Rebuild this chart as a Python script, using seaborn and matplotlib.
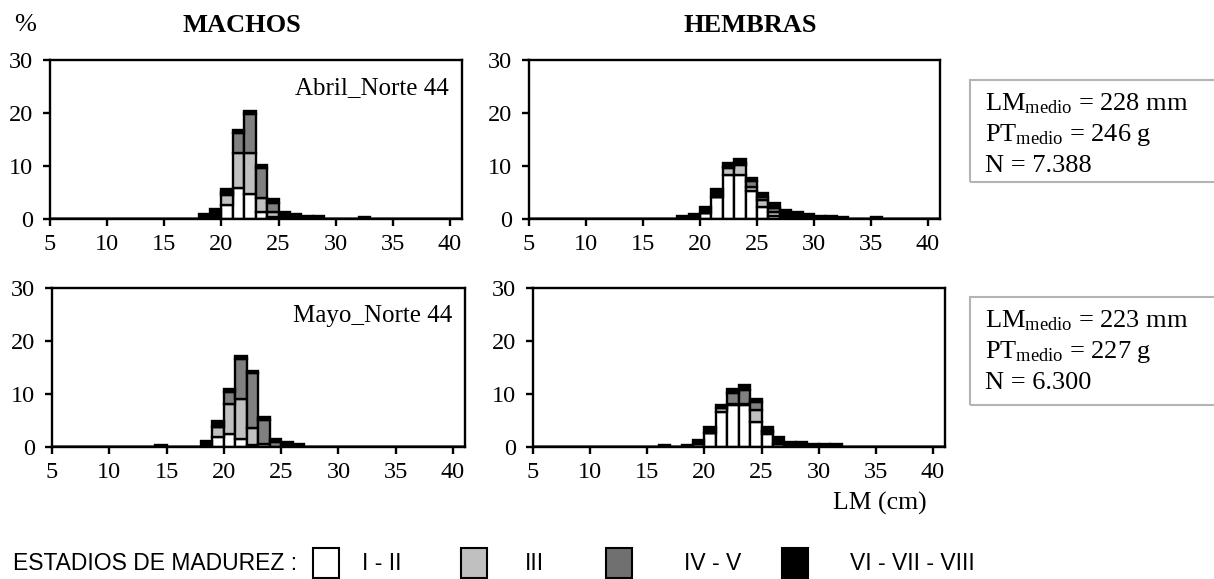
import numpy as np
import pandas as pd
import matplotlib
matplotlib.use('Agg')
import matplotlib.pyplot as plt
import seaborn as sns
from matplotlib.patches import Rectangle

# maturity stages, bottom to top of each stacked bar
stages = ['I - II', 'III', 'IV - V', 'VI - VII - VIII']
stage_colors = ['white', '#c0c0c0', '#808080', 'black']

# Abril - machos (left edge of 1 cm length class, % per stage)
abril_m_lm = [18, 19, 20, 21, 22, 23, 24, 25, 26, 27, 28, 32]
abril_m_1 = [0, 0.4, 2.6, 5.8, 4.8, 1.3, 0.3, 0, 0, 0, 0, 0]
abril_m_3 = [0, 0, 1.9, 6.6, 7.6, 2.7, 1.0, 0, 0, 0, 0, 0]
abril_m_4 = [0, 0, 0.5, 3.9, 7.5, 5.6, 1.8, 0.2, 0, 0, 0, 0]
abril_m_6 = [0.9, 1.4, 0.7, 0.5, 0.5, 0.5, 0.6, 1.2, 0.9, 0.5, 0.5, 0.4]

# Abril - hembras
abril_h_lm = [18, 19, 20, 21, 22, 23, 24, 25, 26, 27, 28, 29, 30, 31, 32, 35]
abril_h_1 = [0, 0, 1.1, 4.2, 8.3, 8.3, 5.3, 2.2, 0.6, 0, 0, 0, 0, 0, 0, 0]
abril_h_3 = [0, 0, 0, 0, 1.3, 1.8, 0.7, 1.4, 0.8, 0, 0, 0, 0, 0, 0, 0]
abril_h_4 = [0, 0, 0, 0, 0.2, 0.4, 1.1, 0.6, 0.6, 0, 0, 0, 0, 0, 0, 0]
abril_h_6 = [0.5, 0.9, 1.1, 1.5, 0.7, 0.8, 0.6, 0.8, 1.0, 1.7, 1.4, 0.9, 0.5, 0.5, 0.4, 0.4]

# Mayo - machos
mayo_m_lm = [14, 18, 19, 20, 21, 22, 23, 24, 25, 26]
mayo_m_1 = [0, 0, 1.9, 2.4, 1.6, 0.3, 0, 0, 0, 0]
mayo_m_3 = [0, 0, 1.9, 5.7, 7.5, 3.3, 0.6, 0, 0, 0]
mayo_m_4 = [0, 0, 0, 2.3, 7.5, 10.3, 4.5, 0.9, 0, 0]
mayo_m_6 = [0.45, 1.2, 1.1, 0.5, 0.6, 0.5, 0.5, 0.7, 0.9, 0.5]

# Mayo - hembras
mayo_h_lm = [16, 18, 19, 20, 21, 22, 23, 24, 25, 26, 27, 28, 29, 30, 31]
mayo_h_1 = [0, 0, 0.5, 2.7, 6.6, 7.9, 7.9, 4.7, 2.4, 0.5, 0, 0, 0, 0, 0]
mayo_h_3 = [0, 0, 0, 0, 0.8, 0.3, 0.3, 2.3, 0.4, 0, 0, 0, 0, 0, 0]
mayo_h_4 = [0, 0, 0, 0, 0, 2.0, 2.6, 1.5, 0.2, 0, 0, 0, 0, 0, 0]
mayo_h_6 = [0.45, 0.45, 0.8, 1.0, 0.6, 0.7, 0.9, 0.5, 0.7, 1.3, 0.9, 0.9, 0.5, 0.5, 0.5]

x_ticks = [5, 10, 15, 20, 25, 30, 35, 40]
y_ticks = [0, 10, 20, 30]


def long_table(lm, s1, s3, s4, s6):
    rows = []
    for vals, st in zip([s1, s3, s4, s6], stages):
        for x, v in zip(lm, vals):
            rows.append({'LM': x + 0.5, 'stage': st, 'pct': v})
    return pd.DataFrame(rows)


sns.set_style('ticks')
plt.rcParams['font.family'] = ['Liberation Serif', 'DejaVu Serif']
plt.rcParams['mathtext.fontset'] = 'custom'
plt.rcParams['mathtext.rm'] = 'Liberation Serif'
plt.rcParams['mathtext.it'] = 'Liberation Serif:italic'
for key in ['text.color', 'axes.labelcolor', 'xtick.color', 'ytick.color', 'axes.edgecolor']:
    plt.rcParams[key] = 'black'

W, H = 1214, 579
fig = plt.figure(figsize=(W / 100, H / 100), dpi=100)


def px_axes(left, right, top, bottom):
    return fig.add_axes([left / W, 1 - bottom / H, (right - left) / W, (bottom - top) / H])


panels = [
    (px_axes(50, 462, 60, 219), long_table(abril_m_lm, abril_m_1, abril_m_3, abril_m_4, abril_m_6), 'Abril_Norte 44'),
    (px_axes(529, 940, 60, 219), long_table(abril_h_lm, abril_h_1, abril_h_3, abril_h_4, abril_h_6), None),
    (px_axes(52, 465, 288, 447), long_table(mayo_m_lm, mayo_m_1, mayo_m_3, mayo_m_4, mayo_m_6), 'Mayo_Norte 44'),
    (px_axes(533, 945, 288, 447), long_table(mayo_h_lm, mayo_h_1, mayo_h_3, mayo_h_4, mayo_h_6), None),
]

palette = dict(zip(stages, stage_colors))
for ax, df, label in panels:
    # seaborn puts the first hue level on top when stacking
    sns.histplot(data=df, x='LM', weights='pct', hue='stage', hue_order=stages[::-1],
                 multiple='stack', binwidth=1, binrange=(5, 41), palette=palette,
                 edgecolor='black', linewidth=1.7, alpha=1, legend=False, ax=ax)
    ax.set_xlim(5, 41.05)
    ax.set_ylim(0, 30)
    ax.set_xticks(x_ticks)
    ax.set_yticks(y_ticks)
    ax.set_xlabel('')
    ax.set_ylabel('')
    for sp in ax.spines.values():
        sp.set_visible(True)
        sp.set_linewidth(1.7)
        sp.set_color('black')
    ax.tick_params(axis='both', labelsize=17.5, width=1.7, length=5, color='black',
                   labelcolor='black')
    ax.tick_params(axis='x', pad=6)
    ax.tick_params(axis='y', pad=7)
    if label:
        ax.text(0.968, 0.825, label, transform=ax.transAxes, ha='right', va='center', fontsize=18)

fig.text(25 / W, 1 - 25 / H, '%', ha='center', va='center', fontsize=19)
fig.text(242 / W, 1 - 25 / H, 'MACHOS', ha='center', va='center', fontsize=19, fontweight='bold')
fig.text(750 / W, 1 - 25 / H, 'HEMBRAS', ha='center', va='center', fontsize=19, fontweight='bold')
fig.text(880 / W, 1 - 503 / H, 'LM (cm)', ha='center', va='center', fontsize=18.5)

# summary boxes
stats = [
    (80, 182, ['LM$_{\\mathrm{medio}}$ = 228 mm', 'PT$_{\\mathrm{medio}}$ = 246 g', 'N = 7.388']),
    (297, 405, ['LM$_{\\mathrm{medio}}$ = 223 mm', 'PT$_{\\mathrm{medio}}$ = 227 g', 'N = 6.300']),
]
for top, bottom, lines in stats:
    fig.patches.append(Rectangle((970 / W, 1 - bottom / H), 0.3, (bottom - top) / H,
                                 transform=fig.transFigure, facecolor='none',
                                 edgecolor='#b4b4b4', linewidth=1.5, clip_on=False))
    for i, line in enumerate(lines):
        fig.text(985 / W, 1 - (top + 24 + i * 31) / H, line, ha='left', va='center', fontsize=19)

# maturity legend
sans = ['Liberation Sans', 'DejaVu Sans']
leg_y = 563
fig.text(13 / W, 1 - leg_y / H, 'ESTADIOS DE MADUREZ :', ha='left', va='center', fontsize=16.5, family=sans)
leg_boxes = [313, 461, 606, 782]
leg_text = [362, 525, 684, 850]
for bx, tx, st, col in zip(leg_boxes, leg_text, stages, ['white', '#c0c0c0', '#707070', 'black']):
    fig.patches.append(Rectangle((bx / W, 1 - (leg_y + 15) / H), 26 / W, 30 / H,
                                 transform=fig.transFigure, facecolor=col,
                                 edgecolor='black', linewidth=1.5))
    fig.text(tx / W, 1 - leg_y / H, st, ha='left', va='center', fontsize=16.5, family=sans)

fig.savefig('out.png', dpi=100)
